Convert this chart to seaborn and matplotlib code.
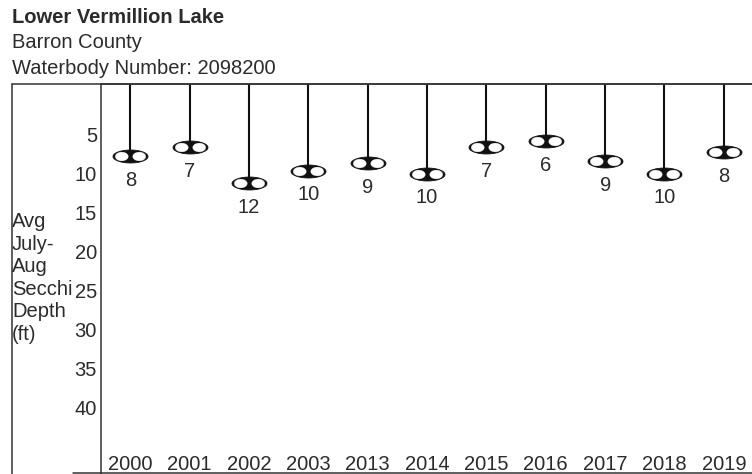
import numpy as np
import pandas as pd
import matplotlib
matplotlib.use("Agg")
import matplotlib.pyplot as plt
from matplotlib.path import Path
from matplotlib.lines import Line2D
from matplotlib.transforms import ScaledTranslation
import seaborn as sns

# ---- data ----
years = ["2000", "2001", "2002", "2003", "2013", "2014", "2015", "2016", "2017", "2018", "2019"]
depth_ft = [8.1, 7.0, 11.6, 10.0, 9.0, 10.4, 7.0, 6.2, 8.8, 10.4, 7.6]
depth_labels = ["8", "7", "12", "10", "9", "10", "7", "6", "9", "10", "8"]
yticks = [5, 10, 15, 20, 25, 30, 35, 40]

title = "Lower Vermillion Lake"
subtitle1 = "Barron County"
subtitle2 = "Waterbody Number: 2098200"
ylabel = "Avg\nJuly-\nAug\nSecchi\nDepth\n(ft)"

df = pd.DataFrame({"year": years, "depth": depth_ft, "label": depth_labels})

sns.set_theme(style="white")
plt.rcParams["font.family"] = ["Liberation Sans", "DejaVu Sans"]

W, H = 752, 474
fig = plt.figure(figsize=(W / 100, H / 100), dpi=100)
fig.patch.set_facecolor("white")

def fx(x):
    return x / W

def fy(y):
    return 1 - y / H

ax_left, ax_right, ax_top, ax_bot = 100.7, 753.5, 84.0, 472.5
ax = fig.add_axes([fx(ax_left), fy(ax_bot), fx(ax_right - ax_left), (ax_bot - ax_top) / H])
ax.set_facecolor("white")

TXT = "#2b2b2b"
LINE = "#333333"
FS = 14.5

# y scale: value 0 at y=93px, 7.78 px per ft
y0, k = 93.0, 7.78
ax.set_ylim((ax_bot - y0) / k, (ax_top - y0) / k)
ax.set_xlim(-0.5, len(years) - 0.5)

# stems
top_val = (ax_top - y0) / k
ax.vlines(range(len(years)), top_val, df["depth"], color="#111111", linewidth=1.5, zorder=2)

# Secchi-disk marker: black ellipse with two white lobes
t = np.linspace(0, 2 * np.pi, 73)
b = 0.37
ell = Path(np.column_stack([np.cos(t), b * np.sin(t)]))
cx, rx, ry = 0.5, 0.37, 0.25
lobe_l = np.column_stack([-cx + rx * np.cos(t), ry * np.sin(t)])
lobe_r = np.column_stack([cx + rx * np.cos(t), ry * np.sin(t)])
lverts = np.vstack([lobe_l, lobe_r])
lcodes = ([Path.MOVETO] + [Path.LINETO] * (len(t) - 2) + [Path.CLOSEPOLY]) * 2
lobes = Path(lverts, lcodes)
scale_l = np.max(np.abs(lverts))

msize = 25.2  # points (ellipse width)
sns.scatterplot(data=df, x="year", y="depth", marker=ell, s=msize ** 2,
                color="#111111", edgecolor="#111111", linewidth=0.6, zorder=3, ax=ax, legend=False)
sns.scatterplot(data=df, x="year", y="depth", marker=lobes, s=(msize * scale_l) ** 2,
                color="white", edgecolor="white", linewidth=0.2, zorder=4, ax=ax, legend=False)

# value labels
for i, (v, lab) in enumerate(zip(df["depth"], df["label"])):
    ax.annotate(lab, (i, v), xytext=(0, -24 * 0.72), textcoords="offset points",
                ha="center", va="center", fontsize=FS, color=TXT)

# axes styling
ax.set_yticks(yticks)
ax.set_yticklabels([str(v) for v in yticks])
ax.set_xlabel("")
ax.set_ylabel("")
ax.tick_params(axis="y", length=0, pad=2.7, labelsize=FS, labelcolor=TXT)
ax.tick_params(axis="x", length=0, pad=-12.6, labelsize=FS, labelcolor=TXT)
for lab in ax.get_yticklabels():
    lab.set_transform(lab.get_transform() + ScaledTranslation(0, -3 / 100, fig.dpi_scale_trans))
for side in ["left", "bottom", "top"]:
    ax.spines[side].set_color(LINE)
    ax.spines[side].set_linewidth(1.1)
ax.spines["right"].set_visible(False)
ax.grid(False)

# outer frame
fig.add_artist(Line2D([fx(11.5), fx(11.5)], [fy(84), fy(474)], color=LINE, linewidth=1.1))
fig.add_artist(Line2D([fx(11.5), 1], [fy(84), fy(84)], color=LINE, linewidth=1.1))
fig.add_artist(Line2D([fx(73), fx(ax_left)], [fy(ax_bot), fy(ax_bot)], color=LINE, linewidth=1.1))

# titles
fig.text(fx(12), fy(23.3), title, fontsize=FS, fontweight="bold", color=TXT, va="baseline", ha="left")
fig.text(fx(12), fy(48.5), subtitle1, fontsize=FS, color=TXT, va="baseline", ha="left")
fig.text(fx(12), fy(74.3), subtitle2, fontsize=FS, color=TXT, va="baseline", ha="left")

# y label
fig.text(fx(12), fy(212), ylabel, fontsize=FS, color=TXT, va="top", ha="left", linespacing=1.24)

fig.savefig("out.png", dpi=100, facecolor="white")
